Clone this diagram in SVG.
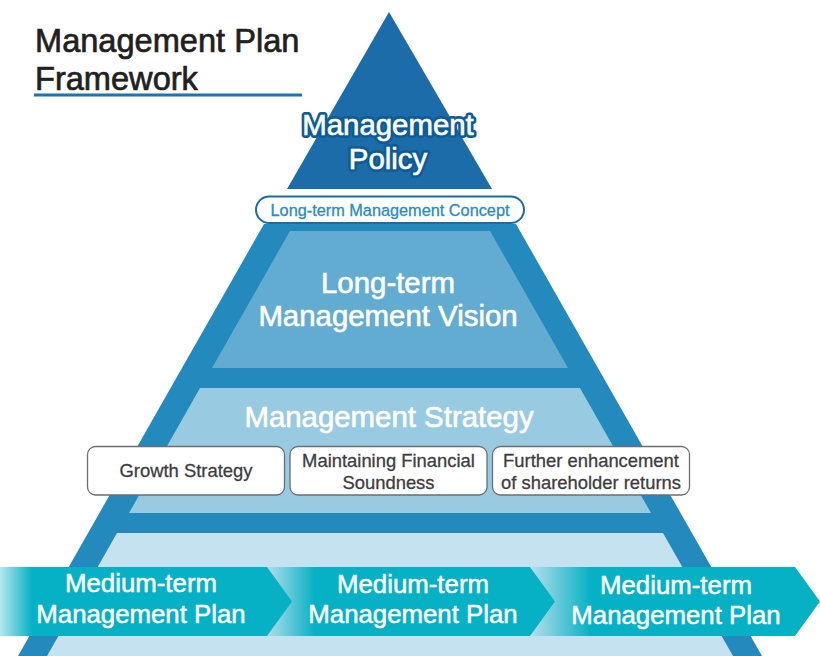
<svg xmlns="http://www.w3.org/2000/svg" width="820" height="656" viewBox="0 0 820 656">
<defs>
<style>
.t{font-family:"Liberation Sans",Arial,sans-serif}
.w{fill:#ffffff;stroke:#ffffff;stroke-width:0.6}
.big{font-size:29.4px}
.box{fill:#ffffff;stroke:#6d6e71;stroke-width:1.3}
.bt{font-size:18.4px;fill:#3d3d3f;stroke:#3d3d3f;stroke-width:0.3}
.arr{font-size:25.8px;fill:#ffffff;stroke:#ffffff;stroke-width:0.5}
</style>
<linearGradient id="g1" gradientUnits="userSpaceOnUse" x1="0" y1="0" x2="32" y2="0">
<stop offset="0" stop-color="#07b1c5" stop-opacity="0.3"/><stop offset="1" stop-color="#07b1c5"/>
</linearGradient>
<linearGradient id="g2" gradientUnits="userSpaceOnUse" x1="267" y1="0" x2="315" y2="0">
<stop offset="0" stop-color="#07b1c5" stop-opacity="0.1"/><stop offset="1" stop-color="#07b1c5"/>
</linearGradient>
<linearGradient id="g3" gradientUnits="userSpaceOnUse" x1="532" y1="0" x2="590" y2="0">
<stop offset="0" stop-color="#07b1c5" stop-opacity="0.1"/><stop offset="1" stop-color="#07b1c5"/>
</linearGradient>
</defs>
<rect width="820" height="656" fill="#ffffff"/>

<g id="title">
<text class="t" x="35" y="52" font-size="32.6" fill="#231f20" stroke="#231f20" stroke-width="0.7">Management Plan</text>
<text class="t" x="35" y="90" font-size="32.6" fill="#231f20" stroke="#231f20" stroke-width="0.7">Framework</text>
<line x1="34" y1="95" x2="302" y2="95" stroke="#1a75b5" stroke-width="3"/>
</g>

<g id="pyramid">
<polygon points="264,224 516,224 762,656 18,656" fill="#2489bd"/>
</g>

<g id="policy">
<polygon points="389,12 492,189 287,189" fill="#1b6ca8"/>
<text class="t big" x="388" y="135" text-anchor="middle" fill="#0f5b96" stroke="#0f5b96" stroke-width="6" stroke-linejoin="round">Management</text>
<text class="t big" x="388" y="169" text-anchor="middle" fill="#0f5b96" stroke="#0f5b96" stroke-width="6" stroke-linejoin="round">Policy</text>
<text class="t w big" x="388" y="135" text-anchor="middle">Management</text>
<text class="t w big" x="388" y="169" text-anchor="middle">Policy</text>
</g>

<g id="concept">
<rect x="256" y="196.5" width="268" height="26.5" rx="13.25" fill="#ffffff" stroke="#1b6ca8" stroke-width="2"/>
<text class="t" x="390" y="215.5" text-anchor="middle" font-size="16.3" fill="#2a8cc2" stroke="#2a8cc2" stroke-width="0.3">Long-term Management Concept</text>
</g>

<g id="vision">
<polygon points="290,231 490,231 568,368 212,368" fill="#63acd1"/>
<text class="t w big" x="388" y="293" text-anchor="middle">Long-term</text>
<text class="t w big" x="388" y="326" text-anchor="middle">Management Vision</text>
</g>

<g id="strategy">
<polygon points="200,388 580,388 651,513 129,513" fill="#98cbe2"/>
<text class="t w big" x="389" y="427" text-anchor="middle">Management Strategy</text>
</g>

<g id="growth">
<rect class="box" x="87.5" y="446.5" width="197" height="48.5" rx="8"/>
<text class="t bt" x="186" y="476.5" text-anchor="middle">Growth Strategy</text>
</g>
<g id="financial">
<rect class="box" x="290" y="446.5" width="197" height="48.5" rx="8"/>
<text class="t bt" x="388.5" y="467" text-anchor="middle">Maintaining Financial</text>
<text class="t bt" x="388.5" y="489" text-anchor="middle">Soundness</text>
</g>
<g id="returns">
<rect class="box" x="492.5" y="446.5" width="197" height="48.5" rx="8"/>
<text class="t bt" x="591" y="467" text-anchor="middle">Further enhancement</text>
<text class="t bt" x="591" y="489" text-anchor="middle">of shareholder returns</text>
</g>

<g id="base">
<polygon points="117,533 663,533 733,656 47,656" fill="#c4e2ef"/>
</g>

<g id="connectors">
<g id="plan3">
<polygon points="532,567 795,567 820,601.5 795,636 532,636" fill="url(#g3)"/>
<text class="t arr" x="676" y="594" text-anchor="middle">Medium-term</text>
<text class="t arr" x="676" y="624" text-anchor="middle">Management Plan</text>
</g>
<g id="plan2">
<polygon points="267,567 530,567 555,601.5 530,636 267,636" fill="url(#g2)"/>
<text class="t arr" x="413" y="593" text-anchor="middle">Medium-term</text>
<text class="t arr" x="413" y="623" text-anchor="middle">Management Plan</text>
</g>
<g id="plan1">
<polygon points="0,567 267,567 292,601.5 267,636 0,636" fill="url(#g1)"/>
<text class="t arr" x="141" y="592" text-anchor="middle">Medium-term</text>
<text class="t arr" x="141" y="623" text-anchor="middle">Management Plan</text>
</g>
</g>
</svg>
